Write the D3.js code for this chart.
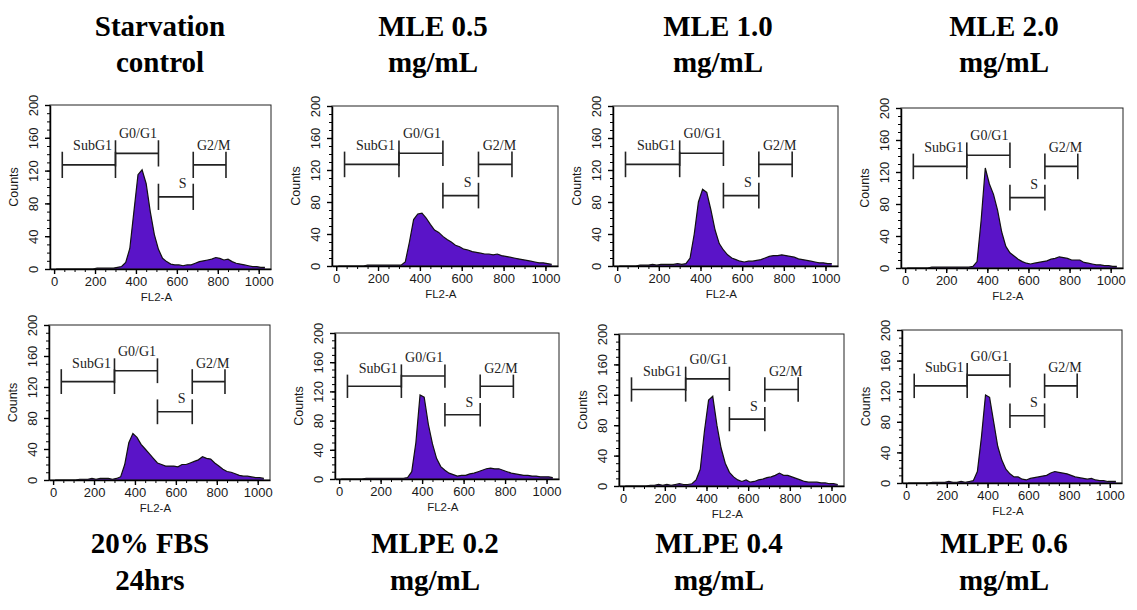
<!DOCTYPE html>
<html>
<head>
<meta charset="utf-8">
<script src="https://cdn.jsdelivr.net/npm/d3@7"></script>
<style>
  body { margin: 0; background: #fff; }
</style>
</head>
<body>
<div id="chart"></div>
<script>
// histogram bins, 20 channels wide, FL2-A 0..1020
var channels = d3.range(0, 1040, 20);

var starvationCounts = [0,0,0,0,0,0,0,0,0,0,
  1,1,1,1,1,2,3,8,25,70,115,121,104,70,42,24,13,9,6,5,5,4,5,5,7,9,10,11,12,14,13,11,12,9,7,6,5,4,3,3,2,2];
var mle05Counts = [0,0,0,0,0,0,0, 1,1,1,1,1,1,1,1,1,
  5,30,58,65,66,60,52,45,42,37,33,30,26,24,21,20,18,17,16,15,15,14,15,13,12,11,10,9,8,7,6,5,4,4,3,2];
var mle10Counts = [0,0,0,0,0, 1,1,1,2,1,2,2,2,2,3,2,3,
  10,40,80,96,92,70,45,28,20,14,10,8,6,5,6,6,7,8,10,12,13,13,14,13,12,11,9,8,7,6,5,4,4,3,3];
var mle20Counts = [0,0,0,0,0,0, 1,1,1,1,1,1,1,1,1,1,2,
  8,60,125,105,92,72,45,27,19,15,11,8,6,5,6,7,8,9,11,12,14,13,12,10,10,10,7,6,5,4,4,3,3,2,2];
var fbsCounts = [0,0,0,0,0,0, 1,1,1,2,1,2,2,2,1,2,4,
  20,48,60,55,46,40,34,28,22,20,18,18,18,17,20,20,22,24,26,30,28,27,22,18,14,11,10,8,6,5,5,4,3,3,2];
var mlpe02Counts = [0,0,0,0,0,0, 1,1,1,1,1,1,1,1,1,1,2,
  10,50,115,112,75,48,28,17,12,8,6,4,5,5,7,8,10,12,14,15,14,14,12,10,8,7,6,5,5,4,4,3,3,3,2];
var mlpe04Counts = [0,0,0,0,0,0, 1,1,2,1,2,1,2,3,2,2,3,
  8,22,72,113,118,80,50,30,18,12,8,6,8,5,6,8,9,11,12,14,17,14,14,12,10,8,6,5,5,5,4,4,3,3,2];
var mlpe06Counts = [0,0,0,0,0,0, 1,1,1,1,2,1,1,2,1,2,3,
  15,60,115,112,80,48,30,18,12,8,8,5,4,6,7,8,9,10,13,15,14,13,12,10,8,7,6,5,6,4,3,3,2,2,2];

var topTitles = [["Starvation", "control"], ["MLE 0.5", "mg/mL"], ["MLE 1.0", "mg/mL"], ["MLE 2.0", "mg/mL"]];
var bottomTitles = [["20% FBS", "24hrs"], ["MLPE 0.2", "mg/mL"], ["MLPE 0.4", "mg/mL"], ["MLPE 0.6", "mg/mL"]];

var gateNames = ["SubG1", "G0/G1", "S", "G2/M"];
var gateStart = [40, 300, 510, 680];
var gateEnd = [300, 510, 680, 840];
var gateLevel = [127, 141, 88, 127];
var gateLabelX = [188, 410, 628, 780];
var gateLabelY = [145, 160, 99, 145];

var yTicks = [0, 40, 80, 120, 160, 200];
var xTicks = [0, 200, 400, 600, 800, 1000];

var allCounts = [starvationCounts, mle05Counts, mle10Counts, mle20Counts,
                 fbsCounts, mlpe02Counts, mlpe04Counts, mlpe06Counts];

var serif = "'Liberation Serif', 'Times New Roman', Times, serif";
var sans = "'Liberation Sans', Arial, Helvetica, sans-serif";

// plot frames (left, top, right, bottom)
var boxes = [
  {l: 50, t: 105, r: 271, b: 269},
  {l: 332, t: 106, r: 558, b: 266},
  {l: 613, t: 106, r: 838, b: 266},
  {l: 901, t: 108, r: 1123, b: 268},
  {l: 49, t: 325, r: 270, b: 480},
  {l: 335, t: 333, r: 559, b: 479},
  {l: 619, t: 334, r: 844, b: 486},
  {l: 902, t: 330, r: 1122, b: 483}
];

var svg = d3.select("#chart").append("svg").attr("width", 1137).attr("height", 610);
svg.append("rect").attr("width", 1137).attr("height", 610).attr("fill", "#fff");

function drawPanel(box, counts){
  var g = svg.append("g");
  var x = d3.scaleLinear().domain([-20, 1060]).range([box.l, box.r]);
  var y = d3.scaleLinear().domain([0, 200]).range([box.b, box.t]);

  // points at bin centres
  var pts = channels.map(function(c, i){ return [c + 10, counts[i]]; });

  var area = d3.area()
    .x(function(d){ return x(d[0]); })
    .y0(y(0))
    .y1(function(d){ return y(d[1]); });
  var line = d3.line()
    .x(function(d){ return x(d[0]); })
    .y(function(d){ return y(d[1]); });

  g.append("path").datum(pts).attr("d", area).attr("fill", "#5a14c8");
  g.append("path").datum(pts).attr("d", line).attr("fill", "none").attr("stroke", "#111").attr("stroke-width", 1.2);

  g.append("rect")
    .attr("x", box.l).attr("y", box.t)
    .attr("width", box.r - box.l).attr("height", box.b - box.t)
    .attr("fill", "none").attr("stroke", "#222").attr("stroke-width", 1);

  // minor ticks
  g.append("g").attr("transform", "translate(" + box.l + ",0)")
    .call(d3.axisLeft(y).tickValues(d3.range(0, 201, 10)).tickSize(3).tickSizeOuter(0).tickFormat(""))
    .call(function(s){ s.select(".domain").remove(); });
  g.append("g").attr("transform", "translate(0," + box.b + ")")
    .call(d3.axisBottom(x).tickValues(d3.range(0, 1001, 50)).tickSize(3).tickSizeOuter(0).tickFormat(""))
    .call(function(s){ s.select(".domain").remove(); });

  // major ticks
  var ya = g.append("g").attr("transform", "translate(" + box.l + ",0)")
    .call(d3.axisLeft(y).tickValues(yTicks).tickSize(5).tickSizeOuter(0).tickFormat(d3.format("d")));
  ya.select(".domain").attr("stroke-width", 1.5);
  ya.selectAll(".tick line").attr("stroke-width", 1.4);
  ya.selectAll(".tick text")
    .style("font-family", sans).style("font-size", "13px").attr("fill", "#1a1a1a")
    .attr("transform", "rotate(-90)")
    .attr("x", 0).attr("y", -12).attr("dy", 0)
    .style("text-anchor", "middle");

  var xa = g.append("g").attr("transform", "translate(0," + box.b + ")")
    .call(d3.axisBottom(x).tickValues(xTicks).tickSize(5).tickSizeOuter(0).tickFormat(d3.format("d")));
  xa.select(".domain").attr("stroke-width", 1.5);
  xa.selectAll(".tick line").attr("stroke-width", 1.4);
  xa.selectAll(".tick text")
    .style("font-family", sans).style("font-size", "13px").attr("fill", "#1a1a1a")
    .attr("y", 8);

  g.append("text")
    .style("font-family", sans).style("font-size", "12.5px").attr("fill", "#1a1a1a")
    .attr("transform", "translate(" + (box.l - 32) + "," + ((box.t + box.b) / 2) + ") rotate(-90)")
    .attr("text-anchor", "middle")
    .text("Counts");
  g.append("text")
    .style("font-family", sans).style("font-size", "11.5px").attr("fill", "#1a1a1a")
    .attr("x", x(500)).attr("y", box.b + 32)
    .attr("text-anchor", "middle")
    .text("FL2-A");

  // gates
  var cap = 16;
  for (var i = 0; i < gateNames.length; i++){
    var yy = y(gateLevel[i]);
    g.append("line").attr("x1", x(gateStart[i])).attr("x2", x(gateEnd[i]))
      .attr("y1", yy).attr("y2", yy).attr("stroke", "#222").attr("stroke-width", 1.6);
    g.append("line").attr("x1", x(gateStart[i])).attr("x2", x(gateStart[i]))
      .attr("y1", y(gateLevel[i] + cap)).attr("y2", y(gateLevel[i] - cap)).attr("stroke", "#222").attr("stroke-width", 1.6);
    g.append("line").attr("x1", x(gateEnd[i])).attr("x2", x(gateEnd[i]))
      .attr("y1", y(gateLevel[i] + cap)).attr("y2", y(gateLevel[i] - cap)).attr("stroke", "#222").attr("stroke-width", 1.6);
    g.append("text")
      .style("font-family", serif).style("font-size", "14px").attr("fill", "#222")
      .attr("x", x(gateLabelX[i])).attr("y", y(gateLabelY[i]))
      .attr("text-anchor", "middle")
      .text(gateNames[i]);
  }
}

for (var p = 0; p < boxes.length; p++){
  drawPanel(boxes[p], allCounts[p]);
}

var topX = [160, 433, 718, 1004];
var bottomX = [150, 435, 719, 1004];

function titleBlock(lines, cx, y1, y2){
  var t = svg.append("text")
    .style("font-family", serif).style("font-weight", "bold").style("font-size", "29px")
    .attr("fill", "#000").attr("text-anchor", "middle");
  t.append("tspan").attr("x", cx).attr("y", y1).text(lines[0]);
  t.append("tspan").attr("x", cx).attr("y", y2).text(lines[1]);
}

topTitles.forEach(function(d, i){ titleBlock(d, topX[i], 36, 72); });
bottomTitles.forEach(function(d, i){ titleBlock(d, bottomX[i], 553, 590); });
</script>
</body>
</html>
